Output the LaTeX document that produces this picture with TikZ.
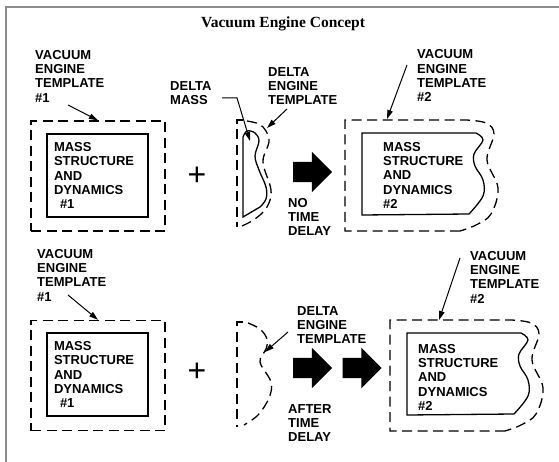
\documentclass[tikz,border=0pt]{standalone}
\usepackage{fontspec}
\setmainfont{Liberation Sans}
\newfontfamily\titlefont{Liberation Serif}
\usetikzlibrary{arrows.meta,shapes.arrows}

\begin{document}
\begin{tikzpicture}[x=1pt,y=-1pt,
    lbl/.style={align=left,inner sep=0pt,anchor=north west,
      font=\bfseries\fontsize{13}{14.3}\selectfont},
    dashline/.style={line width=1.3pt,dash pattern=on 10pt off 5.5pt},
    solidline/.style={line width=1.3pt},
    ptr/.style={line width=1pt,-{Triangle[length=9pt,width=5.5pt]}},
    dashbox/.style={draw,dashline,inner sep=0pt,minimum width=134pt,minimum height=110pt},
    massbox/.style={draw,solidline,lbl,anchor=center,inner xsep=7pt,
      text width=87pt,minimum height=83pt},
    blockarrow/.style={single arrow,fill=black,inner sep=0pt,text height=20pt,text depth=0pt,
      minimum width=40pt,minimum height=39pt,single arrow head extend=10pt}]
  \useasboundingbox (0,0) rectangle (559,462);
  % frame and title
  \draw[black!45,line width=1.5pt] (6,462) -- (6,7) -- (559,7);
  \node[anchor=base,inner sep=0pt,font=\titlefont\bfseries\fontsize{15.5}{18}\selectfont]
    (title) at (283,28) {Vacuum Engine Concept};

  % ---- top row: no time delay ----
  \node[dashbox] (vb1a) at (98,176) {};
  \node[massbox] (msd1a) at (97.5,175.5) {MASS\\STRUCTURE\\AND\\DYNAMICS\\\hspace*{6pt}\#1};
  \node[lbl] (vet1a) at (35,50) {VACUUM\\ENGINE\\TEMPLATE\\\#1};
  \coordinate (vet1atail) at (68,105);
  \draw[ptr] (vet1atail) -- (vb1a.north);

  \node[font=\fontsize{32}{32}\selectfont,inner sep=0pt] (plus1) at (197,176) {+};

  % delta template and delta mass
  \draw[dashline] (243,120) -- (237,120) -- (237,227);
  \draw[dashline] plot[smooth,tension=0.6] coordinates {(247,121) (259,124) (266,131)
    (269,142) (263,162) (271,190) (267,207) (255,219) (242,226)};
  \draw[solidline] (243,217) -- plot[smooth,tension=0.6] coordinates {(243,137) (247,131)
    (255,133) (259,141) (255,156) (259,170) (266,187) (266,199) (260,207)} -- cycle;
  \node[lbl] (dm) at (170,81) {DELTA\\MASS};
  \coordinate (dmtail) at (222,98);
  \coordinate (dmtip) at (250,141);
  \draw[ptr] (dmtail) -- (237,98) -- (dmtip);
  \node[lbl] (det1) at (268,67) {DELTA\\ENGINE\\TEMPLATE};
  \coordinate (det1tail) at (287,109);
  \coordinate (det1tip) at (267,128);
  \draw[ptr] (det1tail) -- (det1tip);

  \node[blockarrow] (go1) at (307.5,172) {};
  \node[lbl] (ntd) at (288,198) {NO\\TIME\\DELAY};

  % template #2
  \draw[dashline] (460,231) -- (345,231) -- (345,120) -- plot[smooth,tension=0.6]
    coordinates {(466,120) (486,123) (494,134) (487,160) (498,188) (491,214) (476,225) (460,231)};
  \draw[solidline] (362,215) -- (362,133) -- plot[smooth,tension=0.6] coordinates {(476,133)
    (483,140) (474,154) (475,166) (483,180) (483,196) (469,214)} -- cycle;
  \node[lbl] (msd2a) at (383,142) {MASS\\STRUCTURE\\AND\\DYNAMICS\\\#2};
  \node[lbl] (vet2a) at (417,49.5) {VACUUM\\ENGINE\\TEMPLATE\\\#2};
  \coordinate (vet2atail) at (407,65);
  \coordinate (vet2atip) at (387,119);
  \draw[ptr] (vet2atail) -- (vet2atip);

  % ---- bottom row: after time delay ----
  \node[dashbox] (vb1b) at (98,375.5) {};
  \node[massbox] (msd1b) at (97.5,374.5) {MASS\\STRUCTURE\\AND\\DYNAMICS\\\hspace*{6pt}\#1};
  \node[lbl] (vet1b) at (37,249) {VACUUM\\ENGINE\\TEMPLATE\\\#1};
  \coordinate (vet1btail) at (68,295);
  \draw[ptr] (vet1btail) -- (vb1b.north);

  \node[font=\fontsize{32}{32}\selectfont,inner sep=0pt] (plus2) at (197,372) {+};

  % delta template alone
  \draw[dashline] (243,322) -- (237,322) -- (237,427);
  \draw[dashline] plot[smooth,tension=0.6] coordinates {(248,323) (260,329) (267,339)
    (266,349) (260,362) (271,382) (269,398) (258,415) (244,425)};
  \node[lbl] (det2) at (297,306) {DELTA\\ENGINE\\TEMPLATE};
  \coordinate (det2tail) at (288,332);
  \coordinate (det2tip) at (265,352);
  \draw[ptr] (det2tail) -- (det2tip);

  \node[blockarrow] (go2) at (307.5,368) {};
  \node[blockarrow] (go3) at (357,368) {};
  \node[lbl] (atd) at (288,404) {AFTER\\TIME\\DELAY};

  % template #2
  \begin{scope}[shift={(45,200)}]
    \draw[dashline] (460,231) -- (345,231) -- (345,120) -- plot[smooth,tension=0.6]
      coordinates {(466,120) (486,123) (494,134) (487,160) (498,188) (491,214) (476,225) (460,231)};
    \draw[solidline] (362,215) -- (362,133) -- plot[smooth,tension=0.6] coordinates {(476,133)
      (483,140) (474,154) (475,166) (483,180) (483,196) (469,214)} -- cycle;
  \end{scope}
  \node[lbl] (msd2b) at (418,344) {MASS\\STRUCTURE\\AND\\DYNAMICS\\\#2};
  \node[lbl] (vet2b) at (470,251) {VACUUM\\ENGINE\\TEMPLATE\\\#2};
  \coordinate (vet2btail) at (460,258);
  \coordinate (vet2btip) at (439,320);
  \draw[ptr] (vet2btail) -- (vet2btip);
\end{tikzpicture}
\end{document}
